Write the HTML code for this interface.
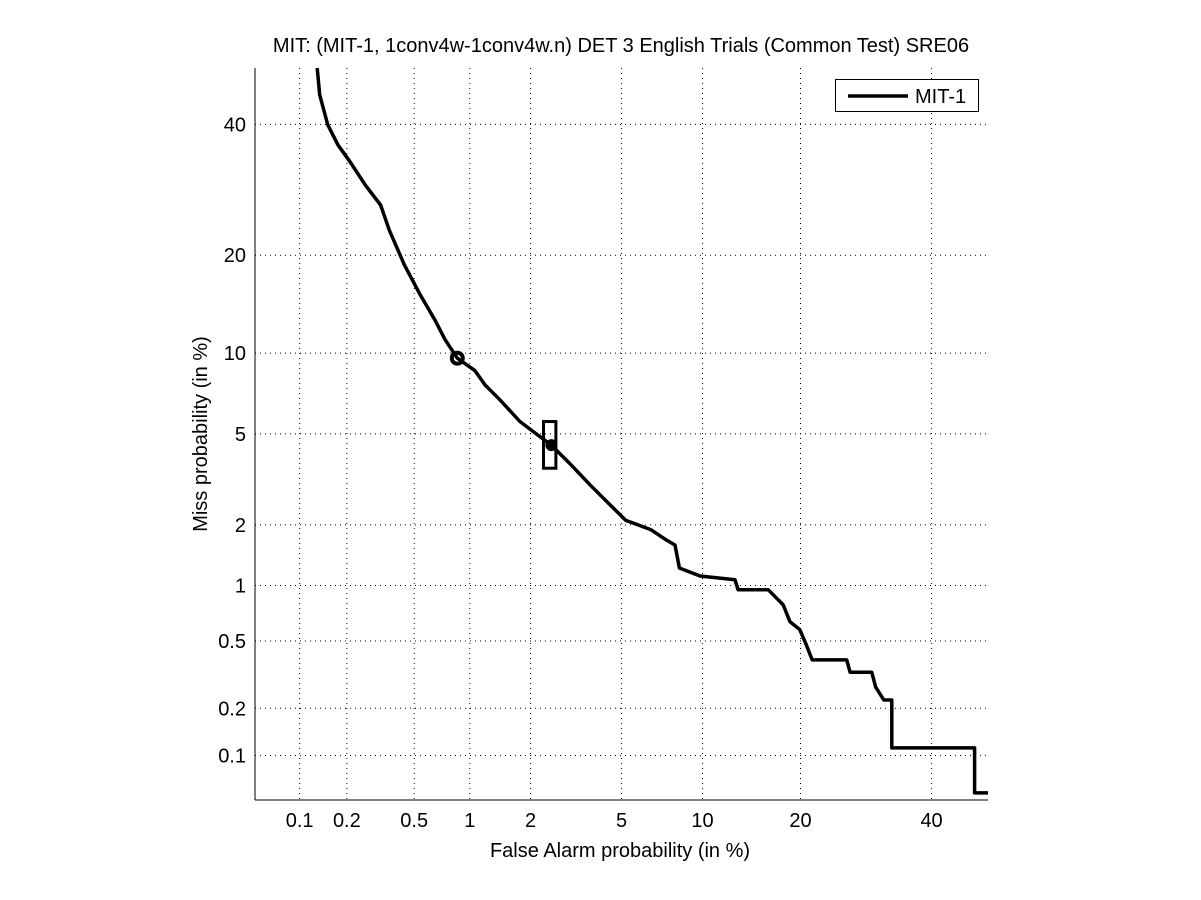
<!DOCTYPE html>
<html><head><meta charset="utf-8"><style>
body{margin:0;background:#fff;}
svg{display:block;font-family:"Liberation Sans",sans-serif;}
</style></head><body>
<svg id="chart" width="1201" height="900">
<text x="621" y="52" font-size="20" text-anchor="middle">MIT: (MIT-1, 1conv4w-1conv4w.n) DET 3 English Trials (Common Test) SRE06</text>
<text x="620" y="857" font-size="20" text-anchor="middle">False Alarm probability (in %)</text>
<text transform="translate(207,434) rotate(-90)" font-size="20" text-anchor="middle">Miss probability (in %)</text>
<g id="grid"></g><g id="ticks"></g><g id="series"></g>
<line x1="255" y1="68" x2="255" y2="800" stroke="#000"/>
<line x1="255" y1="800" x2="988" y2="800" stroke="#000"/>
<g>
<rect x="835.5" y="79.5" width="143" height="32" fill="#fff" stroke="#000"/>
<line x1="848" y1="96" x2="908" y2="96" stroke="#000" stroke-width="3.5"/>
<text x="915" y="103" font-size="20">MIT-1</text>
</g>
</svg>
<script>
const xTicks=[0.1,0.2,0.5,1,2,5,10,20,40];
const yTicks=[0.1,0.2,0.5,1,2,5,10,20,40];
const faPct=[0.13,0.135,0.152,0.176,0.21,0.26,0.32,0.36,0.44,0.54,0.65,0.74,0.86,1.06,1.2,1.42,1.78,2.2,2.5,3.0,3.7,4.3,5.2,6.5,7.4,8.0,8.3,9.8,12.8,13.1,16.2,17.9,18.7,19.9,20.7,21.5,26.3,26.8,30.1,30.7,32.0,33.3,33.3,47.6,47.6,50];
const missPct=[50,45.2,39.9,36.5,33.6,29.9,26.9,23.3,18.8,15.4,12.9,11.1,9.6,8.7,7.7,6.8,5.6,4.9,4.5,3.8,3.05,2.6,2.1,1.9,1.7,1.6,1.23,1.12,1.07,0.95,0.95,0.79,0.64,0.58,0.48,0.39,0.39,0.33,0.33,0.27,0.225,0.225,0.112,0.112,0.056,0.056];
const actPoint=[0.86,9.6];
const minPoint=[2.5,4.5];
const boxRange=[2.3,2.62,3.6,5.6];
const NS="http://www.w3.org/2000/svg";
function probit(p){
 const a=[-39.6968302866538,220.946098424521,-275.928510446969,138.357751867269,-30.6647980661472,2.50662827745924];
 const b=[-54.4760987982241,161.585836858041,-155.698979859887,66.8013118877197,-13.2806815528857];
 const c=[-0.00778489400243029,-0.322396458041136,-2.40075827716184,-2.54973253934373,4.37466414146497,2.93816398269878];
 const d=[0.00778469570904146,0.32246712907004,2.445134137143,3.75440866190742];
 const pl=0.02425;let q,r;
 if(p<pl){q=Math.sqrt(-2*Math.log(p));return (((((c[0]*q+c[1])*q+c[2])*q+c[3])*q+c[4])*q+c[5])/((((d[0]*q+d[1])*q+d[2])*q+d[3])*q+1);}
 if(p>1-pl){q=Math.sqrt(-2*Math.log(1-p));return -(((((c[0]*q+c[1])*q+c[2])*q+c[3])*q+c[4])*q+c[5])/((((d[0]*q+d[1])*q+d[2])*q+d[3])*q+1);}
 q=p-0.5;r=q*q;return (((((a[0]*r+a[1])*r+a[2])*r+a[3])*r+a[4])*r+a[5])*q/(((((b[0]*r+b[1])*r+b[2])*r+b[3])*r+b[4])*r+1);
}
const lo=probit(0.0005),hi=probit(0.5);
const X0=255,X1=988,Y0=68,Y1=800;
function xs(pct){return X0+(probit(pct/100)-lo)/(hi-lo)*(X1-X0);}
function ys(pct){return Y1-(probit(pct/100)-lo)/(hi-lo)*(Y1-Y0);}
function mk(t,attrs,parent){const e=document.createElementNS(NS,t);for(const k in attrs)e.setAttribute(k,attrs[k]);parent.appendChild(e);return e;}
const grid=document.getElementById('grid'),ticks=document.getElementById('ticks'),series=document.getElementById('series');
xTicks.forEach(v=>{const x=xs(v);
 const g=mk('line',{x1:x,y1:Y0,x2:x,y2:Y1,stroke:'#000','stroke-dasharray':'1,4'},grid);
 
 
 const t=mk('text',{x:x,y:827,'font-size':20,'text-anchor':'middle'},ticks);t.textContent=v;
 
 
});
yTicks.forEach(v=>{const y=ys(v);
 const g=mk('line',{x1:X0,y1:y,x2:X1,y2:y,stroke:'#000','stroke-dasharray':'1,4'},grid);
 
 
 const t=mk('text',{x:246,y:y+7,'font-size':20,'text-anchor':'end'},ticks);t.textContent=v;
 
 
});
const pts=faPct.map((f,i)=>xs(f).toFixed(1)+','+ys(missPct[i]).toFixed(1)).join(' ');
const line=mk('polyline',{points:pts,fill:'none',stroke:'#000','stroke-width':3.5,'stroke-linejoin':'round'},series);


const c=mk('circle',{cx:xs(actPoint[0]),cy:ys(actPoint[1]),r:5.5,fill:'none',stroke:'#000','stroke-width':4},series);


const bx=xs(boxRange[0]),bx2=xs(boxRange[1]),by=ys(boxRange[3]),by2=ys(boxRange[2]);
const r=mk('rect',{x:bx,y:by,width:bx2-bx,height:by2-by,fill:'none',stroke:'#000','stroke-width':3},series);


const d=mk('circle',{cx:xs(minPoint[0]),cy:ys(minPoint[1]),r:6,fill:'#000'},series);


</script>
</body></html>
